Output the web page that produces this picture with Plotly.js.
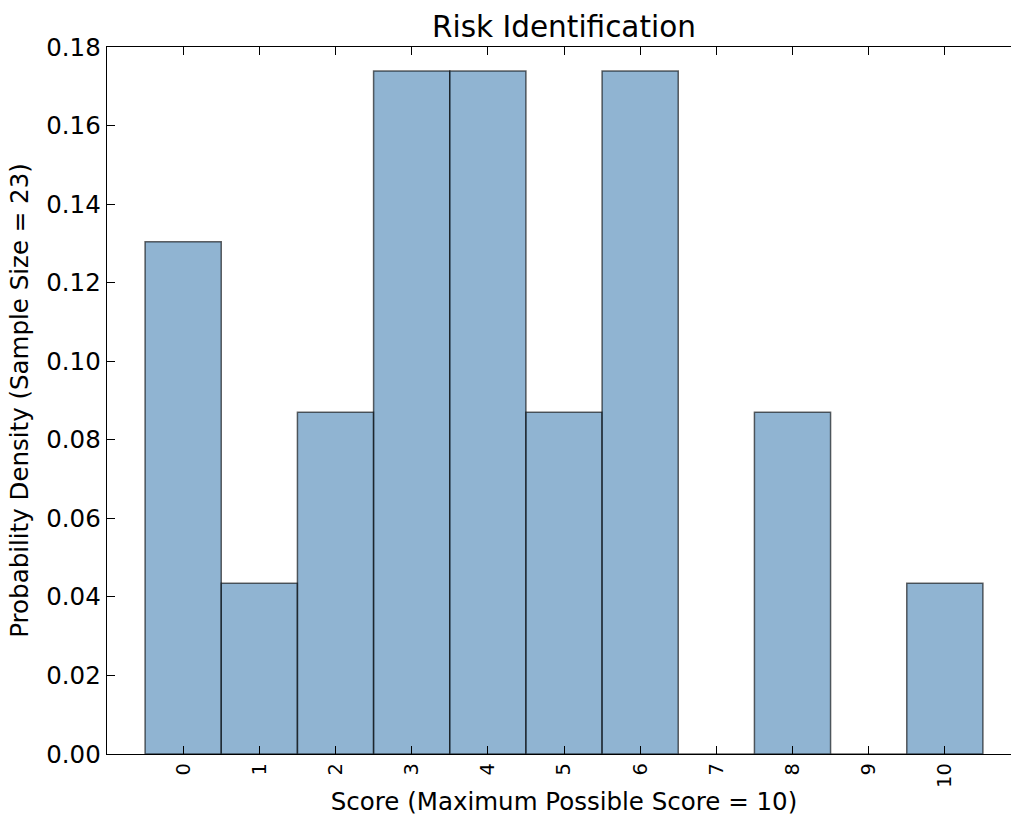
<!DOCTYPE html>
<html>
<head>
<meta charset="utf-8">
<script src="https://cdn.plot.ly/plotly-3.0.1.min.js"></script>
<style>
html, body { margin: 0; padding: 0; overflow: hidden; background: #fff; }
#chart { width: 1023px; height: 816px; }
</style>
</head>
<body>
<div id="chart"></div>
<script>
// Data
var scores = [0, 1, 2, 3, 4, 5, 6, 7, 8, 9, 10];
var density = [0.1304, 0.0435, 0.0870, 0.1739, 0.1739, 0.0870, 0.1739, 0.0, 0.0870, 0.0, 0.0435];
var tickLabels = ["0", "1", "2", "3", "4", "5", "6", "7", "8", "9", "10"];
var titleText = "Risk Identification";
var xTitle = "Score (Maximum Possible Score = 10)";
var yTitle = "Probability Density (Sample Size = 23)";

var font = "DejaVu Sans, sans-serif";

var trace = {
  type: "bar",
  x: scores,
  y: density,
  width: 1,
  marker: {
    color: "rgba(70,130,180,0.6)",
    line: { color: "rgba(0,0,0,0.6)", width: 1.5 }
  },
  hoverinfo: "skip"
};

var layout = {
  width: 1023,
  height: 816,
  margin: { l: 107, r: 2, t: 47, b: 62 },
  paper_bgcolor: "#fff",
  plot_bgcolor: "#fff",
  showlegend: false,
  bargap: 0,
  title: {
    text: titleText,
    font: { family: font, size: 29.5, color: "#000" },
    x: 0.5, xref: "paper", xanchor: "center",
    y: 0.967, yref: "container", yanchor: "middle"
  },
  xaxis: {
    range: [-1, 11],
    tickmode: "array",
    tickvals: scores,
    ticktext: tickLabels,
    tickangle: -90,
    ticks: "inside",
    ticklen: 8,
    tickwidth: 1,
    tickcolor: "#000",
    showline: true,
    linecolor: "#000",
    linewidth: 1.3,
    mirror: "ticks",
    showgrid: false,
    zeroline: false,
    automargin: false,
    tickfont: { family: font, size: 19.5, color: "#000" },
    title: { text: xTitle, font: { family: font, size: 24.5, color: "#000" }, standoff: 6 }
  },
  yaxis: {
    range: [0, 0.18],
    dtick: 0.02,
    tick0: 0,
    tickformat: ".2f",
    ticks: "inside",
    ticklen: 8,
    tickwidth: 1,
    tickcolor: "#000",
    showline: true,
    linecolor: "#000",
    linewidth: 1.3,
    mirror: false,
    showgrid: false,
    zeroline: false,
    automargin: false,
    tickfont: { family: font, size: 24.5, color: "#000" },
    title: { text: yTitle, font: { family: font, size: 24.5, color: "#000" }, standoff: 10 }
  }
};

Plotly.newPlot("chart", [trace], layout, { displayModeBar: false, staticPlot: true });
</script>
</body>
</html>
